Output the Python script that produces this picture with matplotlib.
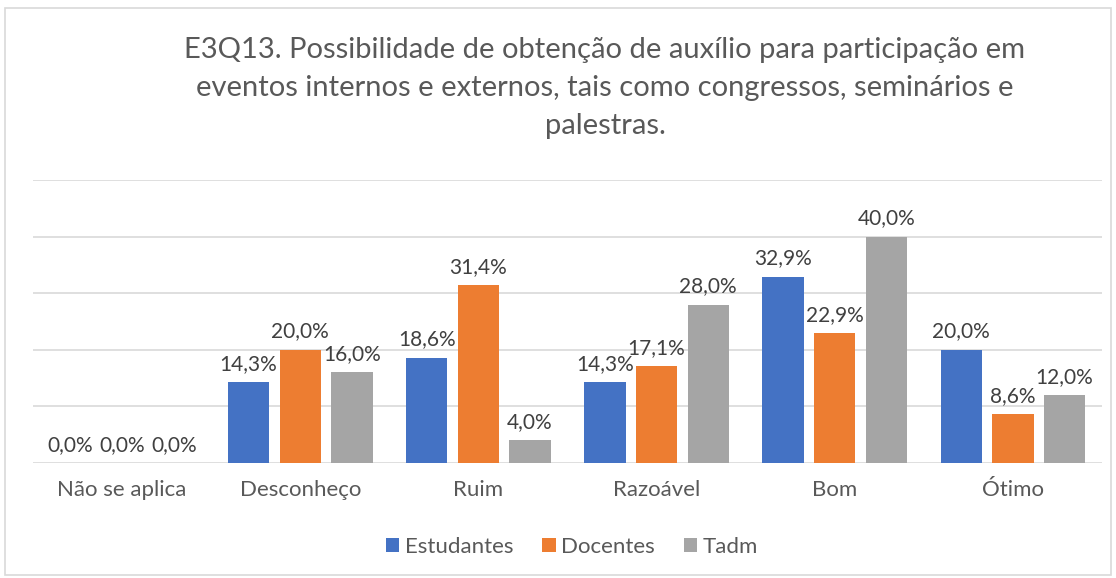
import matplotlib
matplotlib.use("Agg")
import matplotlib.pyplot as plt
import numpy as np
from matplotlib.patches import Rectangle

categories = ["Não se aplica", "Desconheço", "Ruim", "Razoável", "Bom", "Ótimo"]
estudantes = [0.0, 14.3, 18.6, 14.3, 32.9, 20.0]
docentes = [0.0, 20.0, 31.4, 17.1, 22.9, 8.6]
tadm = [0.0, 16.0, 4.0, 28.0, 40.0, 12.0]
series_names = ["Estudantes", "Docentes", "Tadm"]
colors = ["#4472C4", "#ED7D31", "#A5A5A5"]
title = ("E3Q13. Possibilidade de obtenção de auxílio para participação em\n"
         "eventos internos e externos, tais como congressos, seminários e\n"
         "palestras.")

plt.rcParams["font.family"] = ["Lato", "DejaVu Sans"]
W, H = 1116, 578
fig = plt.figure(figsize=(W / 100, H / 100), dpi=100)

# chart border
fig.patches.append(Rectangle((5 / W, 1 - 575 / H), 1106 / W, 567 / H, transform=fig.transFigure,
                             fill=False, edgecolor="#D9D9D9", linewidth=1.2))

ax = fig.add_axes([33 / W, 1 - 463 / H, 1069 / W, 283 / H])
x = np.arange(len(categories))
width = 0.232
step = 0.29
for i, (vals, name, c) in enumerate(zip([estudantes, docentes, tadm], series_names, colors)):
    pos = x + (i - 1) * step
    ax.bar(pos, vals, width, color=c, label=name, zorder=3)
    for px, v in zip(pos, vals):
        ax.annotate(f"{v:.1f}%".replace(".", ","), (px, v), xytext=(0, 6), textcoords="offset points",
                    ha="center", va="bottom", fontsize=15, color="#404040")

ax.set_xlim(-0.5, len(categories) - 0.5)
ax.set_ylim(0, 50)
ax.set_yticks(np.arange(0, 51, 10))
ax.yaxis.grid(True, color="#D9D9D9", linewidth=1.2, zorder=0)
ax.tick_params(axis="y", left=False, labelleft=False)
ax.tick_params(axis="x", length=0, pad=12, labelsize=16, labelcolor="#595959")
ax.set_xticks(x)
ax.set_xticklabels(categories)
for s in ax.spines.values():
    s.set_visible(False)

fig.text(605 / W, 1 - 88 / H, title, ha="center", va="center", fontsize=21,
         color="#595959", linespacing=1.55)

ax.legend(loc="center", bbox_to_anchor=(572 / W, 1 - 547 / H), bbox_transform=fig.transFigure,
          ncol=3, frameon=False, fontsize=16, handlelength=0.6, handleheight=0.6,
          handletextpad=0.25, columnspacing=1.3, labelcolor="#595959")

fig.savefig("out.png", dpi=100)
